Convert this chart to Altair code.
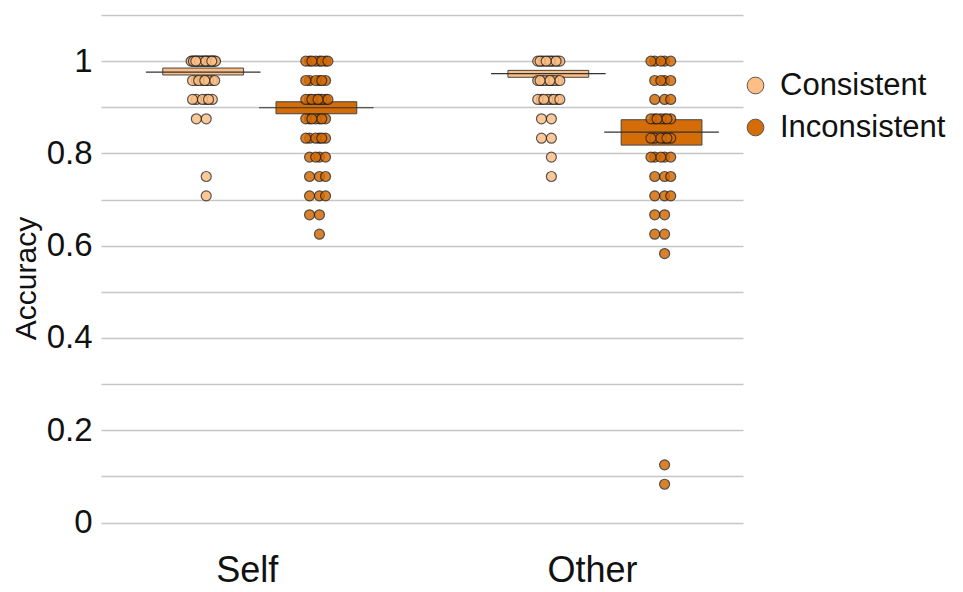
import altair as alt
import pandas as pd

groups = ["Self", "Other"]
conditions = ["Consistent", "Inconsistent"]
colors = ["#fdbf85", "#d46c08"]

# individual accuracies (value levels and how many participants sit on each)
self_con_levels = [1.0, 0.958, 0.917, 0.875, 0.75, 0.708]
self_con_counts = [24, 9, 6, 2, 1, 1]
self_inc_levels = [1.0, 0.958, 0.917, 0.875, 0.833, 0.792, 0.75, 0.708, 0.667, 0.625]
self_inc_counts = [8, 6, 9, 7, 6, 4, 3, 3, 2, 1]
other_con_levels = [1.0, 0.958, 0.917, 0.875, 0.833, 0.792, 0.75]
other_con_counts = [12, 10, 8, 2, 2, 1, 1]
other_inc_levels = [1.0, 0.958, 0.917, 0.875, 0.833, 0.792, 0.75, 0.708, 0.667, 0.625, 0.583, 0.125, 0.083]
other_inc_counts = [5, 4, 3, 7, 6, 5, 3, 3, 2, 2, 1, 1, 1]

# summary boxes (mean and lower/upper edges) in order Self-Con, Self-Inc, Other-Con, Other-Inc
summary_group = ["Self", "Self", "Other", "Other"]
summary_cond = ["Consistent", "Inconsistent", "Consistent", "Inconsistent"]
means = [0.976, 0.899, 0.973, 0.846]
lower = [0.970, 0.886, 0.965, 0.818]
upper = [0.985, 0.912, 0.980, 0.873]

rows = []
for g, c, lv, ct in [
    ("Self", "Consistent", self_con_levels, self_con_counts),
    ("Self", "Inconsistent", self_inc_levels, self_inc_counts),
    ("Other", "Consistent", other_con_levels, other_con_counts),
    ("Other", "Inconsistent", other_inc_levels, other_inc_counts),
]:
    for v, n in zip(lv, ct):
        for _ in range(n):
            rows.append({"group": g, "condition": c, "accuracy": v})
points_df = pd.DataFrame(rows)
summary_df = pd.DataFrame({"group": summary_group, "condition": summary_cond,
                           "mean": means, "lower": lower, "upper": upper})

FONT = "Liberation Sans"
xscale = alt.Scale(domain=[0.54, 2.40], nice=False, zero=False)
yscale = alt.Scale(domain=[-0.04, 1.1], nice=False, zero=False)
legend = alt.Legend(orient="none", legendX=639, legendY=55,
                    symbolType="circle", symbolSize=280,
                    symbolStrokeColor="#555555", symbolStrokeWidth=1,
                    symbolOpacity=1, labelFontSize=31, labelFont=FONT,
                    labelColor="#111111", labelOffset=9, rowPadding=10,
                    labelLimit=400, padding=0)
color = alt.Color("condition:N", scale=alt.Scale(domain=conditions, range=colors),
                  title=None, legend=legend)

xaxis = alt.Axis(values=[1, 2], labelExpr="datum.value == 1 ? 'Self' : 'Other'",
                 grid=False, domain=False, ticks=False, labelFontSize=36, labelFont=FONT,
                 labelColor="#111111", labelPadding=12, labelOffset=-13, title=None)
yaxis = alt.Axis(values=[0, 0.1, 0.2, 0.3, 0.4, 0.5, 0.6, 0.7, 0.8, 0.9, 1.0, 1.1],
                 labelExpr="round(datum.value*10) % 2 == 0 ? format(datum.value, '~g') : ''",
                 grid=True, gridColor="#c6c6c6", gridWidth=1.6, domain=False, ticks=False,
                 labelFontSize=33, labelFont=FONT, labelColor="#111111", labelPadding=9,
                 title="Accuracy", titleFontSize=30, titleFont=FONT, titleFontWeight="normal",
                 titleColor="#111111", titlePadding=5)

base_calc = dict(
    gi="datum.group == 'Self' ? 1 : 2",
    ci="datum.condition == 'Consistent' ? -0.164 : 0.164",
)

boxes = alt.Chart(summary_df).transform_calculate(**base_calc).transform_calculate(
    xc="datum.gi + datum.ci"
).transform_calculate(
    bx1="datum.xc - 0.117", bx2="datum.xc + 0.117",
    lx1="datum.xc - 0.166", lx2="datum.xc + 0.166",
)

box = boxes.mark_rect(stroke="#444444", strokeWidth=1).encode(
    x=alt.X("bx1:Q", scale=xscale, axis=xaxis),
    x2="bx2:Q",
    y=alt.Y("lower:Q", scale=yscale, axis=yaxis),
    y2="upper:Q",
    color=color,
)
crossbar = boxes.mark_rule(color="#333333", strokeWidth=1.2).encode(
    x=alt.X("lx1:Q", scale=xscale),
    x2="lx2:Q",
    y=alt.Y("mean:Q", scale=yscale),
)

pts = alt.Chart(points_df).transform_calculate(**base_calc).transform_window(
    rn="row_number()", groupby=["group", "condition", "accuracy"]
).transform_calculate(
    jit="((datum.rn * 0.6180339) % 1 - 0.5) * 0.075"
).transform_calculate(
    xp="datum.gi + datum.ci + datum.jit"
).mark_circle(size=100, opacity=0.85, stroke="#1a1a1a", strokeWidth=1.2, strokeOpacity=0.85).encode(
    x=alt.X("xp:Q", scale=xscale),
    y=alt.Y("accuracy:Q", scale=yscale),
    color=color,
)

chart = alt.layer(box, crossbar, pts).properties(
    width=642, height=526,
    autosize=alt.AutoSizeParams(type="none"),
    padding={"left": 93, "top": 7, "right": 212, "bottom": 51},
).configure(font=FONT).configure_view(stroke="transparent", strokeWidth=0)

chart.save("out.html", embed_options={"renderer": "svg", "actions": False})
